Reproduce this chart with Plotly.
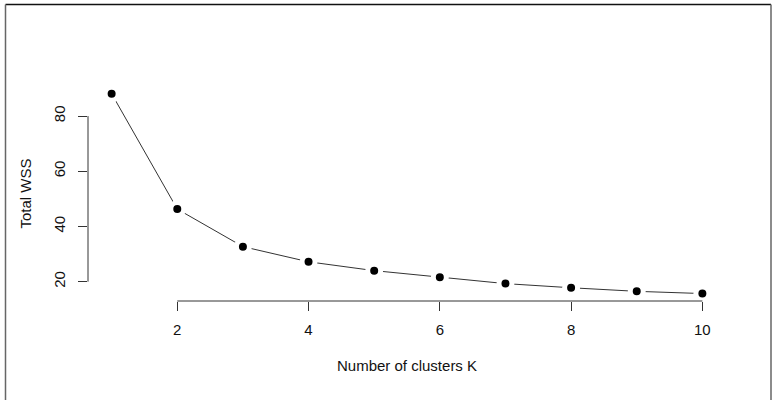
import plotly.graph_objects as go

k_values = [1, 2, 3, 4, 5, 6, 7, 8, 9, 10]
total_wss = [88.1, 46.3, 32.7, 27.2, 24.0, 21.6, 19.3, 17.8, 16.5, 15.7]
x_ticks = [2, 4, 6, 8, 10]
y_ticks = [20, 40, 60, 80]

FONT = "Liberation Sans, Arial, Helvetica, sans-serif"
W, H = 772, 400
L, R, T, B = 88, 46, 86, 99
pw, ph = W - L - R, H - T - B

def px(xp):
    return (xp - L) / pw

def py(yp):
    return (H - B - yp) / ph

fig = go.Figure()
fig.add_trace(go.Scatter(
    x=k_values, y=total_wss, mode="lines+markers",
    line=dict(color="#333333", width=1),
    marker=dict(color="black", size=13, line=dict(color="white", width=5)),
    hoverinfo="skip", showlegend=False,
))

shapes = [
    dict(type="line", xref="x", yref="paper", x0=x_ticks[0], x1=x_ticks[-1], y0=0, y1=0,
         line=dict(color="#333333", width=1)),
    dict(type="line", xref="paper", yref="y", x0=0, x1=0, y0=y_ticks[0], y1=y_ticks[-1],
         line=dict(color="#333333", width=1)),
    dict(type="line", xref="paper", yref="paper", x0=px(5.5), x1=px(771), y0=py(4.5), y1=py(4.5),
         line=dict(color="#111111", width=1.5)),
    dict(type="line", xref="paper", yref="paper", x0=px(5.5), x1=px(5.5), y0=py(4.5), y1=py(410),
         line=dict(color="#666666", width=1.5)),
    dict(type="line", xref="paper", yref="paper", x0=px(771), x1=px(771), y0=py(4.5), y1=py(410),
         line=dict(color="#666666", width=1.5)),
]

tickfont = dict(family=FONT, size=15, color="#111111")

fig.update_layout(
    width=W, height=H,
    margin=dict(l=L, r=R, t=T, b=B),
    paper_bgcolor="white", plot_bgcolor="white",
    font=dict(family=FONT, size=15, color="#111111"),
    shapes=shapes,
    xaxis=dict(range=[0.64, 10.36], tickvals=x_ticks, ticktext=[str(v) for v in x_ticks],
               showgrid=False, zeroline=False, showline=False,
               ticks="outside", ticklen=9, tickwidth=1, tickcolor="#333333",
               tickfont=tickfont, ticklabelstandoff=6, fixedrange=True),
    yaxis=dict(range=[13.0, 90.9], tickvals=y_ticks, ticktext=[str(v) for v in y_ticks],
               showgrid=False, zeroline=False, showline=False,
               ticks="outside", ticklen=9, tickwidth=1, tickcolor="#333333",
               tickfont=tickfont, tickangle=-90, ticklabelstandoff=7, fixedrange=True),
    annotations=[
        dict(text="Number of clusters K", xref="paper", yref="paper", x=0.5, y=py(365),
             showarrow=False, xanchor="center", yanchor="middle", font=dict(size=15)),
        dict(text="Total WSS", xref="paper", yref="paper", x=px(25), y=0.5, textangle=-90,
             showarrow=False, xanchor="center", yanchor="middle", font=dict(size=15)),
    ],
)

fig.write_html("out.html", config={"displayModeBar": False},
               post_script="document.body.style.margin='0';")
